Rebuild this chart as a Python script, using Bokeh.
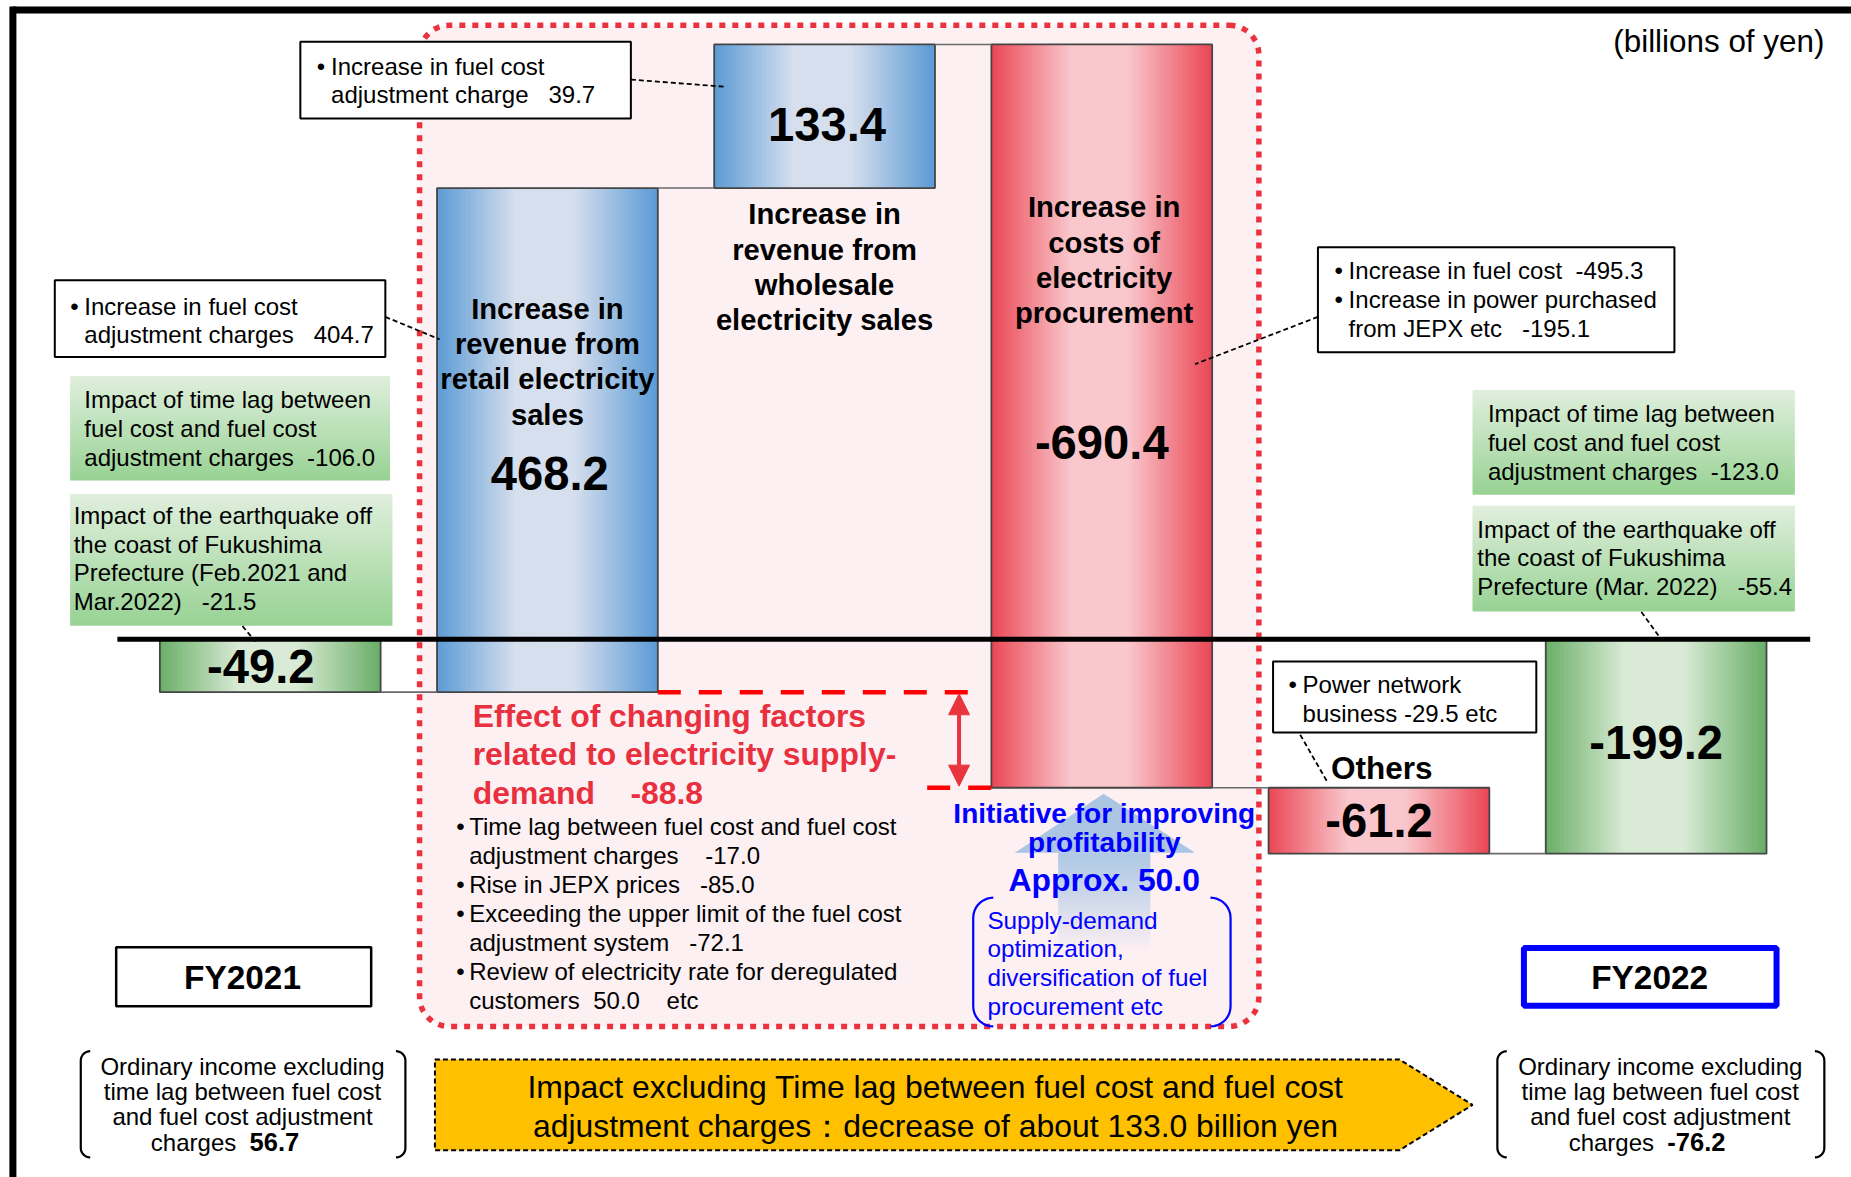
import numpy as np
from bokeh.plotting import figure
from bokeh.models import Range1d, Arrow, NormalHead
from bokeh.core.properties import value
from bokeh.embed import file_html
from bokeh.resources import INLINE

# ---------------------------------------------------------------- data
categories = ["FY2021", "Retail sales", "Wholesale sales",
              "Procurement costs", "Others", "FY2022"]
values = [-49.2, 468.2, 133.4, -690.4, -61.2, -199.2]
is_total = [True, False, False, False, False, True]
bar_palette = ["green", "blue", "blue", "red", "red", "green"]

retail_label = ["Increase in", "revenue from", "retail electricity", "sales"]
wholesale_label = ["Increase in", "revenue from", "wholesale", "electricity sales"]
procurement_label = ["Increase in", "costs of", "electricity", "procurement"]

note_wholesale = ["Increase in fuel cost", "adjustment charge\u00a0\u00a0\u00a039.7"]
note_retail = ["Increase in fuel cost", "adjustment charges\u00a0\u00a0\u00a0404.7"]
note_procurement = [("\u2022", "Increase in fuel cost\u00a0\u00a0-495.3"),
                    ("\u2022", "Increase in power purchased"),
                    ("", "from JEPX etc\u00a0\u00a0\u00a0-195.1")]
note_others = [("\u2022", "Power network"), ("", "business -29.5 etc")]
lag_2021 = ["Impact of time lag between", "fuel cost and fuel cost",
            "adjustment charges\u00a0\u00a0-106.0"]
quake_2021 = ["Impact of the earthquake off", "the coast of Fukushima",
              "Prefecture (Feb.2021 and", "Mar.2022)\u00a0\u00a0\u00a0-21.5"]
lag_2022 = ["Impact of time lag between", "fuel cost and fuel cost",
            "adjustment charges\u00a0\u00a0-123.0"]
quake_2022 = ["Impact of the earthquake off", "the coast of Fukushima",
              "Prefecture (Mar. 2022)\u00a0\u00a0\u00a0-55.4"]
effect_title = ["Effect of changing factors", "related to electricity supply-"]
effect_items = [("\u2022", "Time lag between fuel cost and fuel cost"),
                ("", "adjustment charges\u00a0\u00a0\u00a0\u00a0-17.0"),
                ("\u2022", "Rise in JEPX prices\u00a0\u00a0\u00a0-85.0"),
                ("\u2022", "Exceeding the upper limit of the fuel cost"),
                ("", "adjustment system\u00a0\u00a0\u00a0-72.1"),
                ("\u2022", "Review of electricity rate for deregulated"),
                ("", "customers\u00a0\u00a050.0\u00a0\u00a0\u00a0\u00a0etc")]
initiative_title = ["Initiative for improving", "profitability"]
initiative_amount = "Approx. 50.0"
initiative_items = ["Supply-demand", "optimization,",
                    "diversification of fuel", "procurement etc"]
ordinary_lines = ["Ordinary income excluding", "time lag between fuel cost",
                  "and fuel cost adjustment", "charges"]
ordinary_values = ["56.7", "-76.2"]
banner_lines = ["Impact excluding Time lag between fuel cost and fuel cost",
                "adjustment charges\uff1adecrease of about 133.0 billion yen"]
unit_label = "(billions of yen)"

# ---------------------------------------------------------- waterfall
bottoms, tops, levels = [], [], []
running = 0.0
for v, tot in zip(values, is_total):
    start = 0.0 if tot else running
    running = v if tot else running + v
    bottoms.append(min(start, running))
    tops.append(max(start, running))
    levels.append(running)

# ------------------------------------------------------------- layout
W, H = 1851, 1177
GW, GH = 1568, 997          # layout grid
S = W / GW                  # grid unit -> pixel
BAR0, PITCH = 228.5, 234.8  # grid x of first category, spacing
ZERO, UNIT = 541.0, 0.912   # grid y of zero line, grid units per bn yen
BAR_W = 187 / PITCH


def X(g):
    return (np.asarray(g, dtype=float) - BAR0) / PITCH


def Y(g):
    return (ZERO - np.asarray(g, dtype=float)) / UNIT


def GX(x):
    return BAR0 + x * PITCH


def GY(y):
    return ZERO - y * UNIT


FONT = "Liberation Sans"

p = figure(width=W, height=H, x_range=Range1d(float(X(0)), float(X(GW))),
           y_range=Range1d(float(Y(GH)), float(Y(0))),
           output_backend="svg", toolbar_location=None, min_border=0,
           x_axis_location=None, y_axis_location=None)
p.grid.visible = False
p.outline_line_color = None
p.background_fill_color = "white"
p.border_fill_color = "white"


def hex2rgb(c):
    c = c.lstrip("#")
    return np.array([int(c[i:i + 2], 16) for i in (0, 2, 4)], dtype=float)


def mix(c1, c2, t):
    a, b = hex2rgb(c1), hex2rgb(c2)
    r = a + (b - a) * t
    return "#%02x%02x%02x" % tuple(int(round(v)) for v in r)


def ramp(t):
    return float(np.interp(t, [0.0, 0.36, 0.62, 1.0], [0.0, 1.0, 1.0, 0.0]))


def txt(gx, gy, s, size, bold=False, color="black", align="left"):
    p.text(x=[float(X(gx))], y=[float(Y(gy))], text=[s],
           text_font=value(FONT), text_font_size=value(f"{size * S:.1f}px"),
           text_font_style=value("bold" if bold else "normal"),
           text_color=color, text_align=align, text_baseline="middle")


def box(l, t, r, b, fill="white", line="black", width=2.0, dash="solid"):
    p.quad(left=[float(X(l))], right=[float(X(r))], top=[float(Y(t))],
           bottom=[float(Y(b))], fill_color=fill, line_color=line,
           line_width=width, line_dash=dash)


def leader(g0, g1):
    p.line(x=X([g0[0], g1[0]]), y=Y([g0[1], g1[1]]), line_color="black",
           line_width=1.8, line_dash="5 3")


def rounded_path(l, t, r, b, rad, n=14):
    pts = []
    corners = [(r - rad, t + rad, -90, 0), (r - rad, b - rad, 0, 90),
               (l + rad, b - rad, 90, 180), (l + rad, t + rad, 180, 270)]
    for cx, cy, a0, a1 in corners:
        for a in np.linspace(np.radians(a0), np.radians(a1), n):
            pts.append((cx + rad * np.cos(a), cy + rad * np.sin(a)))
    pts.append(pts[0])
    gx, gy = zip(*pts)
    return X(gx), Y(gy)


def bracket(x, t, b, curl, direction, color, width):
    pts = []
    for a in np.linspace(np.pi / 2, np.pi, 10):      # top curl
        pts.append((x + direction * curl * (1 + np.cos(a)),
                    t + curl * (1 - np.sin(a))))
    for a in np.linspace(np.pi, 1.5 * np.pi, 10):    # bottom curl
        pts.append((x + direction * curl * (1 + np.cos(a)),
                    b - curl * (1 + np.sin(a))))
    gx, gy = zip(*pts)
    p.line(x=X(gx), y=Y(gy), line_color=color, line_width=width)


def vgradient_box(l, t, r, b, c_top, c_bot, n=40):
    ys = np.linspace(t, b, n + 1)
    cols = [mix(c_top, c_bot, (k + 0.5) / n) for k in range(n)]
    p.quad(left=float(X(l)), right=float(X(r)), top=Y(ys[:-1]),
           bottom=Y(ys[1:] + 0.6), fill_color=cols, line_color=None)


# ------------------------------------------------ pink highlighted zone
zx, zy = rounded_path(355, 21, 1066, 869, 25)
p.patch(x=zx, y=zy, fill_color="#fdf0f2", line_color=None)

# translucent blue "improvement" arrow
head_x = [859, 934.5, 1012]
head_y = [722, 672, 722]
p.patch(x=X(head_x), y=Y(head_y), fill_color="#abc5e3", line_color=None)
n_sh = 40
sh_y = np.linspace(722, 805, n_sh + 1)
sh_cols = [mix("#b0c9e5", "#fdf0f2", ((k + 0.5) / n_sh) ** 1.2) for k in range(n_sh)]
p.quad(left=float(X(896)), right=float(X(974)), top=Y(sh_y[:-1]),
       bottom=Y(sh_y[1:] + 0.6), fill_color=sh_cols, line_color=None)

p.patch(x=zx, y=zy, fill_color=None, line_color="#eb3340", line_width=5.5,
        line_dash="6 7")

# ---------------------------------------------------------------- bars
GRAD = {"blue": ("#5b9bd5", "#d6dfee"),
        "red": ("#ea4654", "#f9c7cc"),
        "green": ("#69ae66", "#d9ebd6")}
NS = 60
for i, (b, t, pal) in enumerate(zip(bottoms, tops, bar_palette)):
    dark, light = GRAD[pal]
    xs = i - BAR_W / 2 + (np.arange(NS) + 0.5) * BAR_W / NS
    cols = [mix(dark, light, ramp((k + 0.5) / NS)) for k in range(NS)]
    p.vbar(x=xs, width=BAR_W / NS * 1.2, top=t, bottom=b, fill_color=cols,
           line_color=None)
idx = list(range(len(values)))
p.vbar(x=idx, width=BAR_W, top=tops, bottom=bottoms, fill_color=None,
       line_color="#454545", line_width=1.8)

# connectors between consecutive bars
p.segment(x0=[i + BAR_W / 2 for i in idx[:-1]],
          y0=levels[:-1],
          x1=[i + 1 - BAR_W / 2 for i in idx[:-1]],
          y1=levels[:-1], line_color="#6a6a6a", line_width=1.6)

# zero line
p.segment(x0=[float(X(99))], y0=[0], x1=[float(X(1533))], y1=[0],
          line_color="black", line_width=5)

# supply-demand effect: from retail base level to post-procurement level
upper = levels[0]
lower = levels[3]
effect = lower - upper
p.segment(x0=[1 + BAR_W / 2], y0=[upper], x1=[float(X(829))], y1=[upper],
          line_color="#ff0000", line_width=4.5, line_dash="23 18")
p.segment(x0=[float(X(785))], y0=[lower], x1=[3 - BAR_W / 2], y1=[lower],
          line_color="#ff0000", line_width=4.5, line_dash="23 18")
p.add_layout(Arrow(
    start=NormalHead(size=21, fill_color="#e8343f", line_color="#e8343f"),
    end=NormalHead(size=21, fill_color="#e8343f", line_color="#e8343f"),
    x_start=float(X(812)), y_start=upper - 1.5,
    x_end=float(X(812)), y_end=lower + 1.5,
    line_color="#e8343f", line_width=4))

# --------------------------------------------------------- bar labels
BIG = 40
txt(GX(0) - 8, GY((bottoms[0] + tops[0]) / 2) + 1, f"{values[0]:.1f}", BIG, True, align="center")
for k, s in enumerate(retail_label):
    txt(GX(1), 261 + 30 * k, s, 24.7, True, align="center")
txt(GX(1) + 2, 401, f"{values[1]:.1f}", BIG, True, align="center")
txt(GX(2) + 2, 105, f"{values[2]:.1f}", BIG, True, align="center")
for k, s in enumerate(wholesale_label):
    txt(GX(2), 181 + 30 * k, s, 24.7, True, align="center")
for k, s in enumerate(procurement_label):
    txt(GX(3) + 2, 175 + 30 * k, s, 24.7, True, align="center")
txt(GX(3), 374, f"{values[3]:.1f}", BIG, True, align="center")
txt(1170, 650, "Others", 26.7, True, align="center")
txt(GX(4), GY((bottoms[4] + tops[4]) / 2), f"{values[4]:.1f}", BIG, True, align="center")
txt(GX(5), GY((bottoms[5] + tops[5]) / 2) - 3, f"{values[5]:.1f}", BIG, True, align="center")

# ------------------------------------------------------ callout boxes
SM = 20.3
box(254, 35, 534, 100)
txt(268, 56, "\u2022", SM)
txt(280, 56, note_wholesale[0], SM)
txt(280, 80, note_wholesale[1], SM)
leader((534, 67), (613, 73))

box(46, 237, 326, 302)
txt(59, 259, "\u2022", SM)
txt(71, 259, note_retail[0], SM)
txt(71, 283, note_retail[1], SM)
leader((326, 268), (372, 287))

vgradient_box(59, 318, 330, 406, "#e0efdd", "#98d294")
for k, s in enumerate(lag_2021):
    txt(71, 338 + 24.5 * k, s, SM)
vgradient_box(59, 418, 332, 529, "#e0efdd", "#98d294")
for k, s in enumerate(quake_2021):
    txt(62, 436 + 24.4 * k, s, SM)
leader((205, 530), (216, 543))

box(1116, 209, 1418, 298)
for k, (bul, s) in enumerate(note_procurement):
    if bul:
        txt(1130, 229 + 24.5 * k, bul, SM)
    txt(1142, 229 + 24.5 * k, s, SM)
leader((1116, 268), (1012, 308))

vgradient_box(1247, 330, 1520, 418, "#e0efdd", "#98d294")
for k, s in enumerate(lag_2022):
    txt(1260, 350 + 24.5 * k, s, SM)
vgradient_box(1247, 428, 1520, 517, "#e0efdd", "#98d294")
for k, s in enumerate(quake_2022):
    txt(1251, 448 + 24.2 * k, s, SM)
leader((1390, 518), (1406, 540))

box(1078, 560, 1301, 620)
for k, (bul, s) in enumerate(note_others):
    if bul:
        txt(1091, 579 + 25 * k, bul, SM)
    txt(1103, 579 + 25 * k, s, SM)
leader((1101, 622), (1124, 662))

# ------------------------------------------------- supply-demand block
RED = "#e8303f"
for k, s in enumerate(effect_title):
    txt(400, 606 + 32.5 * k, s, 27, True, color=RED)
txt(400, 671, "demand\u00a0\u00a0\u00a0\u00a0" + f"{effect:.1f}", 27, True, color=RED)
for k, (bul, s) in enumerate(effect_items):
    gy = 700 + 24.5 * k
    if bul:
        txt(386, gy, bul, SM)
    txt(397, gy, s, SM)

BLUE = "#0000ff"
for k, s in enumerate(initiative_title):
    txt(935, 689 + 24.5 * k, s, 23.7, True, color=BLUE, align="center")
txt(935, 745, initiative_amount, 27, True, color=BLUE, align="center")
bracket(824, 760, 869, 17, 1, BLUE, 2.2)
bracket(1042, 760, 869, 17, -1, BLUE, 2.2)
for k, s in enumerate(initiative_items):
    txt(836, 779 + 24.3 * k, s, 20.6, color=BLUE)

# ------------------------------------------------------ year captions
box(98, 802, 314, 852, line="black", width=2.5)
txt(205, 828, categories[0], 28.3, True, align="center")
box(1290.5, 802.5, 1504.5, 851.5, line=BLUE, width=6)
txt(1397, 828, categories[5], 28.3, True, align="center")

# ordinary income excluding time lag
for cx, bl, br, val in [(205, 68, 343, ordinary_values[0]),
                        (1406, 1268, 1545, ordinary_values[1])]:
    bracket(bl, 890, 980, 8, 1, "black", 2.2)
    bracket(br, 890, 980, 8, -1, "black", 2.2)
    for k, s in enumerate(ordinary_lines[:3]):
        txt(cx, 903 + 21.3 * k, s, SM, align="center")
    txt(cx + 6, 967, ordinary_lines[3] + "\u00a0\u00a0", SM, align="right")
    txt(cx + 6, 967, val, 21.6, True, align="left")

# banner arrow
bx = [368, 1185, 1247, 1185, 368, 368]
by = [897, 897, 935.5, 974, 974, 897]
p.patch(x=X(bx), y=Y(by), fill_color="#ffc000", line_color="black",
        line_width=2, line_dash="5 3")
for k, s in enumerate(banner_lines):
    txt(792, 920 + 33 * k, s, 27, align="center")

txt(1545, 35, unit_label, 26.6, align="right")

# outer frame (top and left rules)
p.segment(x0=[float(X(10.5))], y0=[float(Y(8))], x1=[float(X(GW + 5))],
          y1=[float(Y(8))], line_color="black", line_width=7)
p.segment(x0=[float(X(10.5))], y0=[float(Y(5))], x1=[float(X(10.5))],
          y1=[float(Y(GH + 5))], line_color="black", line_width=7)

open("out.html", "w").write(file_html(p, INLINE))
